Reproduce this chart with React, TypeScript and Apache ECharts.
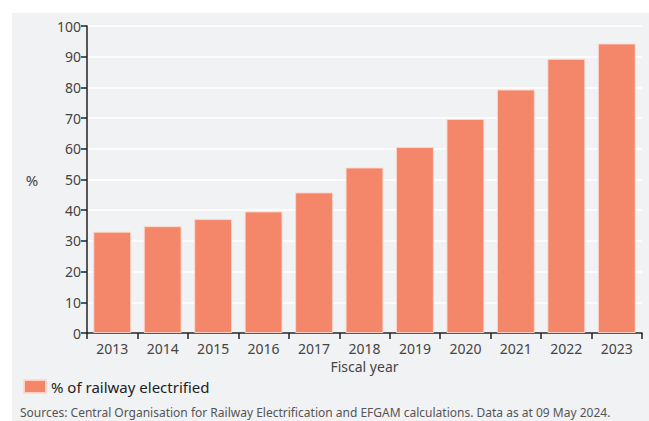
import React, { useEffect, useRef } from "react";
import * as echarts from "echarts";

const categories = ["2013", "2014", "2015", "2016", "2017", "2018", "2019", "2020", "2021", "2022", "2023"];
const electrified = [33, 34.8, 37.1, 39.6, 45.8, 53.9, 60.6, 69.7, 79.3, 89.3, 94.3];
const seriesName = "% of railway electrified";
const sourceText = "Sources: Central Organisation for Railway Electrification and EFGAM calculations. Data as at 09 May 2024.";

const FONT = "'Noto Sans', 'Open Sans', sans-serif";

export default function App() {
  const ref = useRef<HTMLDivElement>(null);
  useEffect(() => {
    if (!ref.current) return;
    const chart = echarts.init(ref.current, undefined, { renderer: "svg" });
    chart.setOption({
      animation: false,
      textStyle: { fontFamily: FONT },
      graphic: [
        {
          type: "rect",
          z: -10,
          shape: { x: 12, y: 13, width: 637, height: 408 },
          style: { fill: "#f1f2f4" },
          silent: true,
        },
        {
          type: "text",
          x: 32,
          y: 180,
          style: { text: "%", font: `15px ${FONT}`, fill: "#444", align: "center", verticalAlign: "middle" },
        },
        {
          type: "text",
          x: 20,
          y: 406,
          style: { text: sourceText, font: `12px ${FONT}`, fill: "#555", align: "left", verticalAlign: "top" },
        },
      ],
      legend: {
        left: 18,
        top: 374,
        itemWidth: 22,
        itemHeight: 13,
        itemGap: 10,
        textStyle: { fontSize: 15, color: "#222", fontFamily: FONT },
        data: [{ name: seriesName, icon: "rect" }],
      },
      grid: { left: 87, right: 7, top: 26, bottom: 88, containLabel: false },
      xAxis: {
        type: "category",
        data: categories,
        name: "Fiscal year",
        nameLocation: "middle",
        nameGap: 26,
        nameTextStyle: { fontSize: 14, color: "#444", fontFamily: FONT },
        axisLine: { lineStyle: { color: "#222", width: 1.5 } },
        axisTick: { show: true, length: 6, lineStyle: { color: "#222", width: 1.5 } },
        axisLabel: { fontSize: 14, color: "#444", margin: 8, fontFamily: FONT },
      },
      yAxis: {
        type: "value",
        min: 0,
        max: 100,
        interval: 10,
        axisLine: { show: true, lineStyle: { color: "#222", width: 1.5 } },
        axisTick: { show: true, length: 6, lineStyle: { color: "#222", width: 1.5 } },
        axisLabel: { fontSize: 14, color: "#444", margin: 6, fontFamily: FONT },
        splitLine: { show: true, lineStyle: { color: "#ffffff", width: 1.5 } },
      },
      series: [
        {
          name: seriesName,
          type: "bar",
          data: electrified,
          barCategoryGap: "25%",
          itemStyle: { color: "#f4866a", borderColor: "rgba(255,215,205,0.9)", borderWidth: 1 },
        },
      ],
    });
    return () => chart.dispose();
  }, []);
  return <div ref={ref} style={{ width: 649, height: 421, position: "absolute", left: 0, top: 0 }} />;
}
